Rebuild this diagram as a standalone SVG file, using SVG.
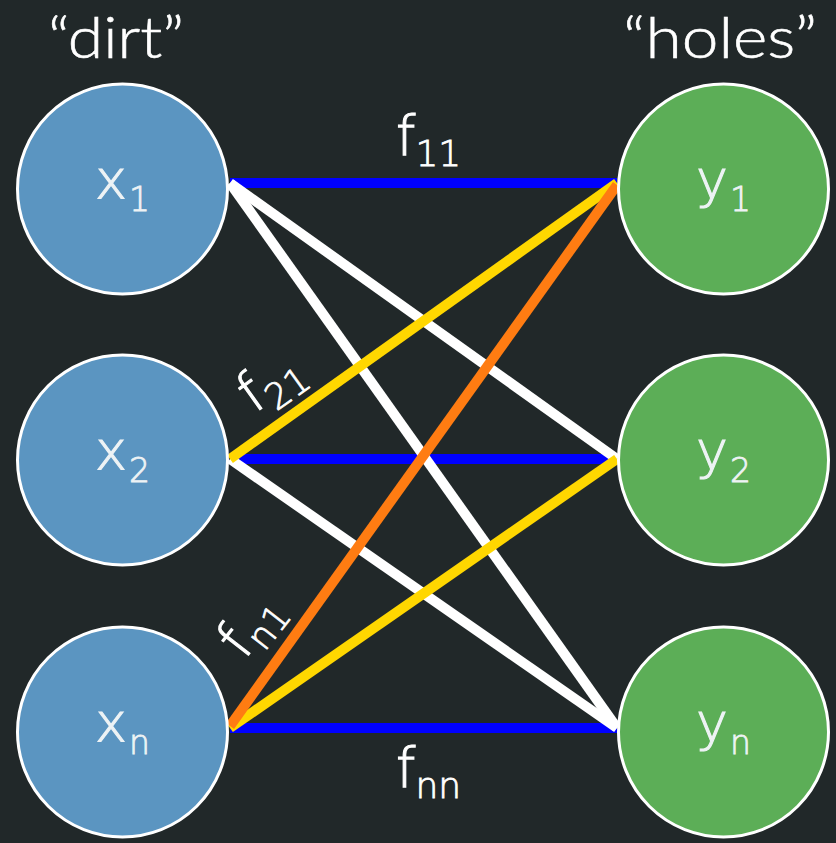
<svg xmlns="http://www.w3.org/2000/svg" width="836" height="843" viewBox="0 0 836 843">
  <style>
    .bg { fill: #212829; }
    .dirt { fill: #5b95c1; stroke: #ffffff; stroke-width: 3; }
    .hole { fill: #5cae57; stroke: #ffffff; stroke-width: 3; }
    .title { font-family: Lato, "Liberation Sans", sans-serif; font-weight: 300; font-size: 58px; fill: #ffffff; stroke: #ffffff; stroke-width: 0.6; }
    .nlabel { font-family: "DejaVu Sans", sans-serif; font-weight: 200; font-size: 54px; fill: #eef3f5; stroke: #eef3f5; stroke-width: 1.1; text-anchor: middle; }
    .nlabel .sub { font-size: 33px; stroke-width: 0.8; }
    .elabel { font-family: "DejaVu Sans", sans-serif; font-weight: 200; font-size: 55px; fill: #ffffff; stroke: #ffffff; stroke-width: 1.1; }
    .elabel .sub { font-size: 36px; stroke-width: 0.8; }
    .edge { fill: none; stroke-width: 10; stroke-linecap: butt; }
    .blue { stroke: #0000ff; }
    .white { stroke: #ffffff; }
    .yellow { stroke: #ffd700; }
    .orange { stroke: #ff7c12; }
  </style>
  <rect class="bg" x="0" y="0" width="836" height="843"/>

  <text class="title" x="48" y="58" textLength="136" lengthAdjust="spacingAndGlyphs">“dirt”</text>
  <text class="title" x="623" y="58" textLength="194" lengthAdjust="spacingAndGlyphs">“holes”</text>

  <g id="connectors">
    <line class="edge blue" x1="230" y1="183" x2="617" y2="183"/>
    <line class="edge blue" x1="230" y1="459" x2="617" y2="459"/>
    <line class="edge blue" x1="230" y1="728" x2="617" y2="728"/>
    <line class="edge white" x1="230" y1="183" x2="617" y2="459"/>
    <line class="edge white" x1="230" y1="183" x2="617" y2="728"/>
    <line class="edge white" x1="230" y1="459" x2="617" y2="728"/>
    <line class="edge yellow" x1="230" y1="459" x2="617" y2="183"/>
    <line class="edge yellow" x1="230" y1="728" x2="617" y2="459"/>
    <line class="edge orange" x1="230" y1="726" x2="617" y2="185"/>
    <text class="elabel" x="396" y="155">f<tspan class="sub" dy="11">11</tspan></text>
    <text class="elabel" transform="translate(254,414) rotate(-35.5)" x="0" y="0">f<tspan class="sub" dy="11">21</tspan></text>
    <text class="elabel" transform="translate(244,661) rotate(-52)" x="0" y="0">f<tspan class="sub" dy="11">n1</tspan></text>
    <text class="elabel" x="396" y="787">f<tspan class="sub" dy="11">nn</tspan></text>
  </g>

  <g id="x1">
    <circle class="dirt" cx="122.5" cy="189" r="105"/>
    <text class="nlabel" x="122.5" y="198">x<tspan class="sub" dx="2" dy="13">1</tspan></text>
  </g>
  <g id="x2">
    <circle class="dirt" cx="122.5" cy="460" r="105"/>
    <text class="nlabel" x="122.5" y="469">x<tspan class="sub" dx="2" dy="13">2</tspan></text>
  </g>
  <g id="xn">
    <circle class="dirt" cx="122.5" cy="732" r="105"/>
    <text class="nlabel" x="122.5" y="741">x<tspan class="sub" dx="2" dy="13">n</tspan></text>
  </g>
  <g id="y1">
    <circle class="hole" cx="723.5" cy="189" r="105"/>
    <text class="nlabel" x="723.5" y="198">y<tspan class="sub" dx="2" dy="13">1</tspan></text>
  </g>
  <g id="y2">
    <circle class="hole" cx="723.5" cy="460" r="105"/>
    <text class="nlabel" x="723.5" y="469">y<tspan class="sub" dx="2" dy="13">2</tspan></text>
  </g>
  <g id="yn">
    <circle class="hole" cx="723.5" cy="732" r="105"/>
    <text class="nlabel" x="723.5" y="741">y<tspan class="sub" dx="2" dy="13">n</tspan></text>
  </g>
</svg>
